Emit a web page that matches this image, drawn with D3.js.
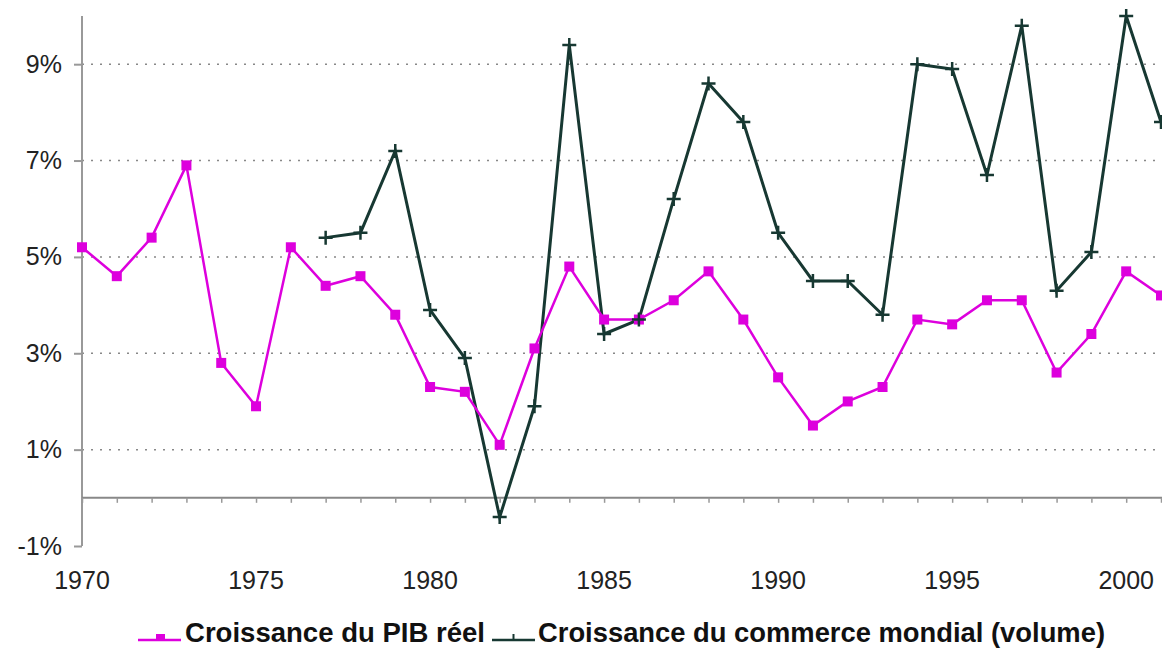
<!DOCTYPE html>
<html>
<head>
<meta charset="utf-8">
<script src="https://cdn.jsdelivr.net/npm/d3@7"></script>
<style>
  body { margin: 0; background: #fff; }
  svg { display: block; font-family: "Liberation Sans", Arial, sans-serif; }
</style>
</head>
<body>
<svg width="1162" height="648"></svg>
<script>
const years = d3.range(1970, 2002);
const pibValues = [5.2, 4.6, 5.4, 6.9, 2.8, 1.9, 5.2, 4.4, 4.6, 3.8, 2.3, 2.2, 1.1, 3.1, 4.8, 3.7,
  3.7, 4.1, 4.7, 3.7, 2.5, 1.5, 2.0, 2.3, 3.7, 3.6, 4.1, 4.1, 2.6, 3.4, 4.7, 4.2];
const tradeYears = d3.range(1977, 2002);
const tradeValues = [5.4, 5.5, 7.2, 3.9, 2.9, -0.4, 1.9, 9.4, 3.4, 3.7, 6.2, 8.6, 7.8, 5.5, 4.5,
  4.5, 3.8, 9.0, 8.9, 6.7, 9.8, 4.3, 5.1, 10.0, 7.8];
const yTicks = [-1, 1, 3, 5, 7, 9];
const xTicks = [1970, 1975, 1980, 1985, 1990, 1995, 2000];
const seriesNames = ["Croissance du PIB réel", "Croissance du commerce mondial (volume)"];

const svg = d3.select("svg");
const pink = "#dd00dd";
const dark = "#173832";

const x = d3.scaleLinear().domain([1970, 2001]).range([82, 1161]);
const y = d3.scaleLinear().domain([-1, 10]).range([546, 16]);

// grid lines
svg.append("g")
  .selectAll("line")
  .data(yTicks.filter(d => d > 0))
  .enter()
  .append("line")
  .attr("x1", x(1970))
  .attr("x2", 1162)
  .attr("y1", d => y(d))
  .attr("y2", d => y(d))
  .attr("stroke", "#888")
  .attr("stroke-width", 1.5)
  .attr("stroke-dasharray", "2,7");

// y axis
const yAxis = svg.append("g")
  .attr("transform", "translate(" + x(1970) + ",0)")
  .call(d3.axisLeft(y).tickValues(yTicks).tickSize(8).tickPadding(12).tickFormat(d => d + "%"));
yAxis.select(".domain").attr("d", "M0," + y(-1) + "V" + y(10)).attr("stroke", "#999").attr("stroke-width", 2);
yAxis.selectAll(".tick line").attr("stroke", "#999").attr("stroke-width", 2);
yAxis.selectAll("text").attr("font-size", 25).attr("fill", "#222").attr("font-family", "Liberation Sans, Arial, sans-serif");

// x axis on the zero line
const xAxis = svg.append("g")
  .attr("transform", "translate(0," + y(0) + ")")
  .call(d3.axisBottom(x).tickValues(years).tickSize(5).tickFormat(""));
xAxis.select(".domain").attr("d", "M" + x(1970) + ",0H1162").attr("stroke", "#888").attr("stroke-width", 2);
xAxis.selectAll(".tick line").attr("stroke", "#999").attr("stroke-width", 1.5);

// x labels
svg.append("g")
  .selectAll("text")
  .data(xTicks)
  .enter()
  .append("text")
  .attr("x", d => x(d))
  .attr("y", 589)
  .attr("text-anchor", "middle")
  .attr("font-size", 25)
  .attr("fill", "#222")
  .text(d => d);

const line = d3.line().x(d => x(d[0])).y(d => y(d[1]));

const pibData = years.map((yr, i) => [yr, pibValues[i]]);
const tradeData = tradeYears.map((yr, i) => [yr, tradeValues[i]]);

svg.append("path")
  .datum(tradeData)
  .attr("fill", "none")
  .attr("stroke", dark)
  .attr("stroke-width", 3)
  .attr("d", line);

svg.append("path")
  .datum(pibData)
  .attr("fill", "none")
  .attr("stroke", pink)
  .attr("stroke-width", 2.5)
  .attr("d", line);

svg.append("g")
  .selectAll("rect")
  .data(pibData)
  .enter()
  .append("rect")
  .attr("x", d => x(d[0]) - 5)
  .attr("y", d => y(d[1]) - 5)
  .attr("width", 10)
  .attr("height", 10)
  .attr("fill", pink);

svg.append("g")
  .selectAll("path")
  .data(tradeData)
  .enter()
  .append("path")
  .attr("d", d => {
    const cx = x(d[0]), cy = y(d[1]);
    return "M" + (cx - 7) + "," + cy + "H" + (cx + 7) + "M" + cx + "," + (cy - 7) + "V" + (cy + 7);
  })
  .attr("stroke", dark)
  .attr("stroke-width", 2.5);

// legend
const legend = svg.append("g");
legend.append("line").attr("x1", 138).attr("x2", 181).attr("y1", 640).attr("y2", 640)
  .attr("stroke", pink).attr("stroke-width", 2.5);
legend.append("rect").attr("x", 156).attr("y", 634).attr("width", 9).attr("height", 7).attr("fill", pink);
legend.append("text").attr("x", 185).attr("y", 642).attr("font-size", 27).attr("font-weight", "bold")
  .attr("textLength", 300).attr("lengthAdjust", "spacingAndGlyphs")
  .attr("fill", "#111").text(seriesNames[0]);
legend.append("line").attr("x1", 492).attr("x2", 535).attr("y1", 640).attr("y2", 640)
  .attr("stroke", dark).attr("stroke-width", 2.5);
legend.append("line").attr("x1", 513.5).attr("x2", 513.5).attr("y1", 634).attr("y2", 640)
  .attr("stroke", dark).attr("stroke-width", 2);
legend.append("text").attr("x", 538).attr("y", 642).attr("font-size", 27).attr("font-weight", "bold")
  .attr("textLength", 567).attr("lengthAdjust", "spacingAndGlyphs")
  .attr("fill", "#111").text(seriesNames[1]);
</script>
</body>
</html>
